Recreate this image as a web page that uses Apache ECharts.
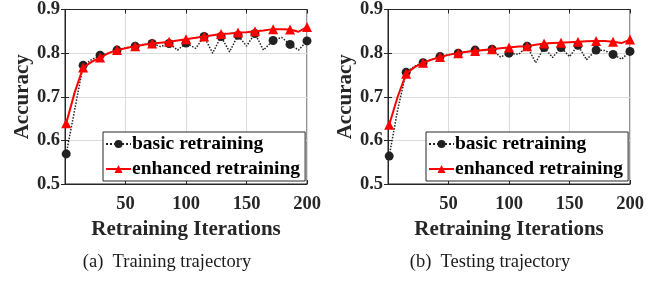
<!DOCTYPE html>
<html>
<head>
<meta charset="utf-8">
<script src="https://cdn.jsdelivr.net/npm/echarts@6/dist/echarts.min.js"></script>
<style>
  html, body { margin: 0; padding: 0; background: #fff; }
  #chart { width: 670px; height: 281px; }
</style>
</head>
<body>
<div id="chart"></div>
<script>
// retraining iterations (markers on every other point)
const iterations = [1, 8, 15, 22, 29, 36, 43, 50, 58, 65, 72, 79, 86, 93, 100,
  108, 115, 122, 129, 136, 143, 150, 157, 164, 172, 179, 186, 193, 200];

const trainBasic = [0.569, 0.67, 0.772, 0.785, 0.795, 0.80, 0.807, 0.812, 0.816, 0.82,
  0.822, 0.815, 0.822, 0.807, 0.823, 0.811, 0.838, 0.80, 0.838, 0.803, 0.841, 0.816,
  0.845, 0.807, 0.829, 0.836, 0.820, 0.807, 0.828];
const trainEnhanced = [0.639, 0.71, 0.767, 0.78, 0.790, 0.80, 0.807, 0.811, 0.816, 0.819,
  0.822, 0.824, 0.826, 0.829, 0.832, 0.835, 0.838, 0.841, 0.844, 0.845, 0.847, 0.848,
  0.850, 0.852, 0.855, 0.855, 0.854, 0.849, 0.860];

const testBasic = [0.564, 0.67, 0.756, 0.77, 0.778, 0.785, 0.792, 0.796, 0.800, 0.803,
  0.807, 0.806, 0.809, 0.791, 0.800, 0.797, 0.816, 0.778, 0.813, 0.79, 0.813, 0.792,
  0.818, 0.785, 0.807, 0.806, 0.797, 0.786, 0.804];
const testEnhanced = [0.636, 0.70, 0.753, 0.768, 0.778, 0.785, 0.791, 0.796, 0.800, 0.803,
  0.805, 0.807, 0.809, 0.811, 0.813, 0.815, 0.816, 0.819, 0.822, 0.823, 0.824, 0.825,
  0.826, 0.827, 0.828, 0.828, 0.826, 0.823, 0.831];

const xTicks = [50, 100, 150, 200];
const yTicks = [0.5, 0.6, 0.7, 0.8, 0.9];
const captions = ['(a)  Training trajectory', '(b)  Testing trajectory'];

const chart = echarts.init(document.getElementById('chart'));
const font = 'Liberation Serif';
const ink = '#262626';

function pairs(ys) {
  return iterations.map((x, i) => [x, ys[i]]);
}

const grids = [
  { left: 65, top: 8, width: 242, height: 176 },
  { left: 388, top: 8, width: 242, height: 176 }
];

const xAxis = [];
const yAxis = [];
const series = [];
const legend = [];

grids.forEach((g, gi) => {
  g.show = true;
  g.borderColor = ink;
  g.borderWidth = 1;

  xAxis.push({
    type: 'value', gridIndex: gi, min: 0, max: 200, interval: 50,
    name: 'Retraining Iterations', nameLocation: 'middle', nameGap: 33,
    nameTextStyle: { fontFamily: font, fontWeight: 'bold', fontSize: 21, color: ink },
    axisLine: { show: true, lineStyle: { color: ink } },
    axisTick: { show: true, inside: true, length: 4, lineStyle: { color: ink } },
    axisLabel: {
      margin: 11, fontFamily: font, fontWeight: 'bold', fontSize: 18.5, color: ink,
      formatter: v => (xTicks.indexOf(v) >= 0 ? String(v) : '')
    },
    splitLine: { show: true, lineStyle: { color: '#dcdcdc' } }
  });
  xAxis.push({
    type: 'value', gridIndex: gi, position: 'top', min: 0, max: 200, interval: 50,
    axisLine: { show: true, lineStyle: { color: ink } },
    axisTick: { show: true, inside: true, length: 4, lineStyle: { color: ink } },
    axisLabel: { show: false }, splitLine: { show: false }
  });
  yAxis.push({
    type: 'value', gridIndex: gi, min: 0.5, max: 0.9, interval: 0.1,
    name: 'Accuracy', nameLocation: 'middle', nameGap: 31,
    nameTextStyle: { fontFamily: font, fontWeight: 'bold', fontSize: 21, color: ink },
    axisLine: { show: true, lineStyle: { color: ink } },
    axisTick: { show: true, inside: true, length: 4, lineStyle: { color: ink } },
    axisLabel: {
      margin: 5, fontFamily: font, fontWeight: 'bold', fontSize: 18.5, color: ink,
      formatter: v => (yTicks.indexOf(Math.round(v * 10) / 10) >= 0 ? v.toFixed(1) : '')
    },
    splitLine: { show: true, lineStyle: { color: '#dcdcdc' } }
  });
  yAxis.push({
    type: 'value', gridIndex: gi, position: 'right', min: 0.5, max: 0.9, interval: 0.1,
    axisLine: { show: true, lineStyle: { color: ink } },
    axisTick: { show: true, inside: true, length: 4, lineStyle: { color: ink } },
    axisLabel: { show: false }, splitLine: { show: false }
  });

  const basic = gi === 0 ? trainBasic : testBasic;
  const enhanced = gi === 0 ? trainEnhanced : testEnhanced;

  series.push({
    name: 'basic retraining', type: 'line', xAxisIndex: gi * 2, yAxisIndex: gi * 2,
    data: pairs(basic), symbol: 'circle',
    symbolSize: (v, p) => (p.dataIndex % 2 === 0 ? 9 : 0),
    showAllSymbol: true,
    lineStyle: { color: '#222', width: 1.5, type: 'dotted' },
    itemStyle: { color: '#222' },
    z: 2
  });
  series.push({
    name: 'enhanced retraining', type: 'line', xAxisIndex: gi * 2, yAxisIndex: gi * 2,
    data: pairs(enhanced), symbol: 'triangle',
    symbolSize: (v, p) => (p.dataIndex % 2 === 0 ? 10 : 0),
    showAllSymbol: true,
    lineStyle: { color: '#ff0000', width: 2 },
    itemStyle: { color: '#ff0000' },
    z: 3
  });

  legend.push({
    left: g.left + 38, top: 132,
    orient: 'vertical', itemGap: 5, itemWidth: 25, itemHeight: 10,
    padding: [2, 5, 2, 2],
    backgroundColor: '#fff', borderColor: ink, borderWidth: 1,
    textStyle: { fontFamily: font, fontWeight: 'bold', fontSize: 19.5, color: '#000', padding: [0, 0, 0, -4] },
    data: ['basic retraining', 'enhanced retraining']
  });
});

chart.setOption({
  animation: false,
  grid: grids,
  xAxis: xAxis,
  yAxis: yAxis,
  legend: legend,
  series: series,
  graphic: captions.map((t, i) => ({
    type: 'text', x: i === 0 ? 167 : 490, y: 262,
    style: {
      text: t, fontFamily: font, fontSize: 18.5, fill: '#1a1a1a',
      textAlign: 'center', textVerticalAlign: 'middle'
    }
  }))
});
</script>
</body>
</html>
